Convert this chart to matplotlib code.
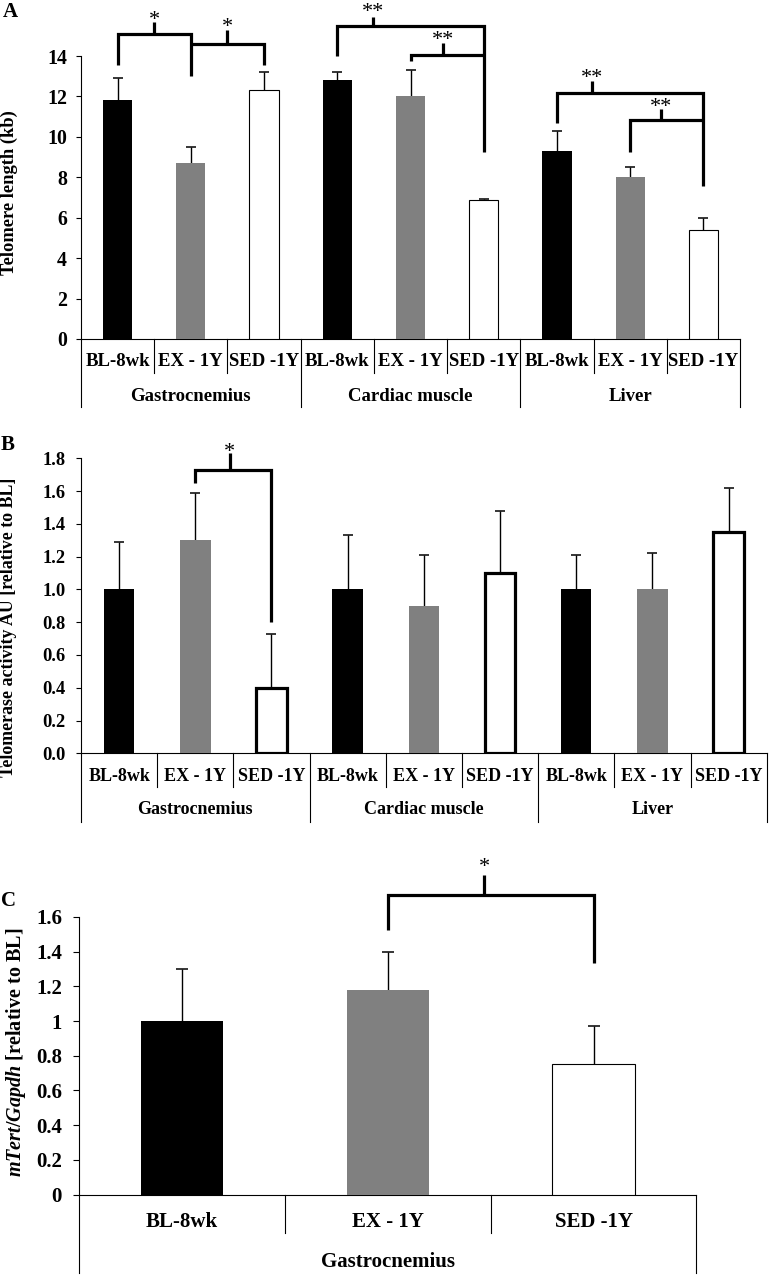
import matplotlib
matplotlib.use('Agg')
import matplotlib.pyplot as plt
import numpy as np

plt.rcParams['font.family'] = ['Liberation Serif', 'DejaVu Serif']
plt.rcParams['font.weight'] = 'bold'
plt.rcParams['mathtext.fontset'] = 'custom'
plt.rcParams['mathtext.it'] = 'Liberation Serif:italic:bold'
plt.rcParams['mathtext.rm'] = 'Liberation Serif:bold'
plt.rcParams['mathtext.bf'] = 'Liberation Serif:bold'

# ---------------- data ----------------
groups = ['BL-8wk', 'EX - 1Y', 'SED -1Y']
tissues = ['Gastrocnemius', 'Cardiac muscle', 'Liver']

telomere_len = [11.8, 8.7, 12.3, 12.8, 12.0, 6.9, 9.3, 8.0, 5.4]
telomere_err = [1.1, 0.8, 0.9, 0.4, 1.3, 0.05, 1.0, 0.5, 0.6]

telomerase = [1.0, 1.3, 0.4, 1.0, 0.9, 1.1, 1.0, 1.0, 1.35]
telomerase_err = [0.29, 0.29, 0.33, 0.33, 0.31, 0.38, 0.21, 0.22, 0.27]

mtert = [1.0, 1.18, 0.75]
mtert_err = [0.30, 0.22, 0.22]

yticks_a = [0, 2, 4, 6, 8, 10, 12, 14]
yticks_b = [0.0, 0.2, 0.4, 0.6, 0.8, 1.0, 1.2, 1.4, 1.6, 1.8]
yticks_c = [0, 0.2, 0.4, 0.6, 0.8, 1.0, 1.2, 1.4, 1.6]

# ---------------- styling ----------------
W, H = 769, 1275
fig = plt.figure(figsize=(W / 100, H / 100), dpi=100)

face = ['#000000', '#808080', '#ffffff']


def ax_rect(x0, x1, ytop, ybot):
    return [x0 / W, 1 - ybot / H, (x1 - x0) / W, (ybot - ytop) / H]


def draw_bars(ax, vals, errs, white_lw, capsize):
    n = len(vals)
    x = np.arange(n)
    fc = [face[i % 3] for i in range(n)]
    ec = ['#000000' if i % 3 == 2 else face[i % 3] for i in range(n)]
    lw = [white_lw if i % 3 == 2 else 0 for i in range(n)]
    ax.bar(x, vals, width=0.4, color=fc, edgecolor=ec, linewidth=lw, zorder=3)
    tops = np.array(vals) + np.array(errs)
    ax.vlines(x, vals, tops, color='k', lw=1.0, zorder=2)
    ax.plot(x, tops, ls='none', marker='_', ms=capsize, mew=1.1, color='k', zorder=2)
    ax.set_xlim(-0.5, n - 0.5)
    ax.set_xticks([])
    for s in ['top', 'right']:
        ax.spines[s].set_visible(False)
    for s in ['left', 'bottom']:
        ax.spines[s].set_linewidth(0.8)
    return x


def draw_xaxis(ax, ngroups, fs_lab, fs_grp, short, long_, ylab, ygrp):
    tr = ax.get_xaxis_transform()
    n = ngroups * 3
    for b in np.arange(-0.5, n, 1.0):
        is_long = (round(b + 0.5) % 3 == 0)
        ax.plot([b, b], [0, long_ if is_long else short], transform=tr,
                color='k', lw=0.8, clip_on=False)
    for i in range(n):
        ax.text(i, ylab, groups[i % 3], transform=tr, ha='center', va='center',
                fontsize=fs_lab, fontweight='bold')
    for g in range(ngroups):
        ax.text(3 * g + 1, ygrp, tissues[g], transform=tr, ha='center', va='center',
                fontsize=fs_grp, fontweight='bold')


def bracket(ax, x1, x2, y, y1, y2, xt, yt, ys, label, fs=16):
    ax.plot([x1, x1, x2, x2], [y1, y, y, y2], color='k', lw=2.3, clip_on=False,
            solid_joinstyle='miter', solid_capstyle='butt', zorder=5)
    ax.plot([xt, xt], [y, yt], color='k', lw=2.3, clip_on=False,
            solid_capstyle='butt', zorder=5)
    # place the glyph centre of the asterisk(s) at ys
    ax.annotate(label, (xt, ys), xytext=(0, -0.47 * fs), textcoords='offset points',
                ha='center', va='baseline', fontsize=fs, fontweight='normal',
                annotation_clip=False)


# ---------------- Panel A ----------------
axA = fig.add_axes(ax_rect(81, 740, 56, 339))
draw_bars(axA, telomere_len, telomere_err, 0.8, 7)
axA.set_ylim(0, 14)
axA.set_yticks(yticks_a)
axA.set_yticklabels([str(v) for v in yticks_a])
axA.tick_params(axis='y', direction='out', length=3.6, width=0.8, pad=6.5, labelsize=14.3)
draw_xaxis(axA, 3, 13.5, 13.5, -0.120, -0.240, -0.080, -0.204)
bracket(axA, 0, 1, 15.08, 13.56, 13.0, 0.5, 15.66, 16.04, '*')
bracket(axA, 1, 2, 14.58, 14.58, 13.56, 1.5, 15.3, 15.71, '*')
bracket(axA, 3, 5, 15.46, 13.98, 9.27, 3.49, 15.95, 16.45, '**')
bracket(axA, 4, 5, 14.06, 13.73, 14.06, 4.44, 14.65, 15.05, '**')
bracket(axA, 6, 8, 12.19, 10.71, 7.57, 6.48, 12.74, 13.18, '**')
bracket(axA, 7, 8, 10.81, 9.27, 10.81, 7.42, 11.4, 11.75, '**')
fig.text(9.5 / W, 1 - 193 / H, 'Telomere length (kb)', rotation=90, ha='center',
         va='center', fontsize=13.3, fontweight='bold')
fig.text(10 / W, 1 - 12 / H, 'A', ha='center', va='center', fontsize=15, fontweight='bold')

# ---------------- Panel B ----------------
axB = fig.add_axes(ax_rect(81, 766.7, 458.3, 753.3))
draw_bars(axB, telomerase, telomerase_err, 2.3, 6.5)
axB.set_ylim(0, 1.8)
axB.set_yticks(yticks_b)
axB.set_yticklabels(['%.1f' % v for v in yticks_b])
axB.tick_params(axis='y', direction='out', length=3.6, width=0.8, pad=7.5, labelsize=13.3)
draw_xaxis(axB, 3, 13, 13, -0.113, -0.232, -0.079, -0.192)
bracket(axB, 1, 2, 1.729, 1.647, 0.803, 1.455, 1.83, 1.87, '*')
fig.text(8.5 / W, 1 - 627 / H, 'Telomerase activity AU [relative to BL]', rotation=90,
         ha='center', va='center', fontsize=12.9, fontweight='bold')
fig.text(8 / W, 1 - 445 / H, 'B', ha='center', va='center', fontsize=15, fontweight='bold')

# ---------------- Panel C ----------------
axC = fig.add_axes(ax_rect(79, 696.5, 917, 1194.5))
draw_bars(axC, mtert, mtert_err, 0.8, 8)
axC.set_ylim(0, 1.6)
axC.set_yticks(yticks_c)
axC.set_yticklabels(['%g' % v for v in yticks_c])
axC.tick_params(axis='y', direction='out', length=4.3, width=0.8, pad=8, labelsize=15)
draw_xaxis(axC, 1, 15, 15, -0.140, -0.284, -0.098, -0.243)
bracket(axC, 1, 2, 1.724, 1.527, 1.336, 1.47, 1.842, 1.92, '*')
fig.text(16 / W, 1 - 1052 / H, r'$\mathit{mTert/Gapdh}$ [relative to BL]', rotation=90,
         ha='center', va='center', fontsize=14.5, fontweight='bold')
fig.text(8 / W, 1 - 901 / H, 'C', ha='center', va='center', fontsize=15, fontweight='bold')

fig.savefig('out.png', dpi=100)
